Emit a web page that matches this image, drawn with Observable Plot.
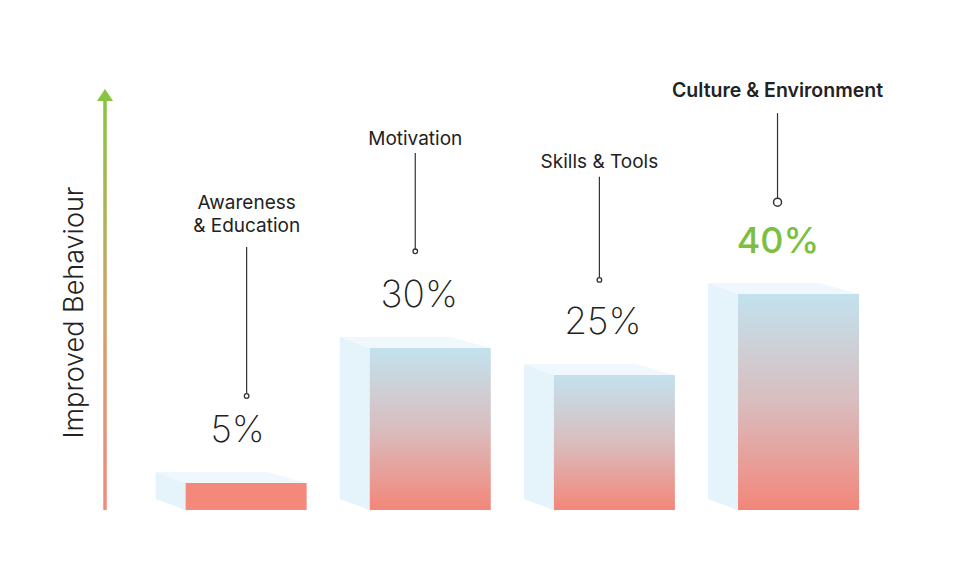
<!DOCTYPE html>
<html><head><meta charset="utf-8">
<script src="https://cdn.jsdelivr.net/npm/d3@7"></script>
<script src="https://cdn.jsdelivr.net/npm/@observablehq/plot@0.6"></script>
<style>
html,body{margin:0;padding:0;background:#fff;}
#chart svg{display:block;}
</style></head><body><div id="chart"></div>
<script>
// ---- data ----
const categories = ["Awareness\n& Education", "Motivation", "Skills & Tools", "Culture & Environment"];
const values = [5, 30, 25, 40];
const valueLabels = ["5%", "30%", "25%", "40%"];
const axisLabel = "Improved Behaviour";

// ---- layout constants ----
const W = 955, H = 574, mL = 62, mR = 46, mT = 24, mB = 64;
const xDomain = [-1, 3.6], yDomain = [0, 90];
const pxX = (W - mL - mR) / (xDomain[1] - xDomain[0]);
const pxY = (H - mT - mB) / (yDomain[1] - yDomain[0]);
const ux = px => px / pxX, uy = px => px / pxY;
const half = ux(60.5), depthX = ux(30), depthY = uy(11), backRight = ux(40);
const leaderShift = [0, -15.5, -15.5, -21.5].map(ux);
const valueShift = [-9, -11.5, -12, -21].map(ux);
const labelBase = [51.5, 67.6, 63.5, 76.5];
const leaderTop = [48.7, 66.1, 61.7, 73.5];
const leaderBottom = [21.2, 48.0, 42.7, 57.1];
const axisX = xDomain[0] + ux(105 - mL);
const axisLabelX = xDomain[0] + ux(74 - mL);
const arrowBase = uy(510 - 101), arrowTip = uy(510 - 89);
const hi = 3;

const bars = categories.map((c, i) => ({i, c, v: values[i], label: valueLabels[i]}));
const side = bars.flatMap(b => [
  {i: b.i, x: b.i - half - depthX, y1: depthY, y2: b.v + depthY},
  {i: b.i, x: b.i - half, y1: 0, y2: b.v}
]);
const topFace = bars.flatMap(b => [
  {i: b.i, y: b.v, x1: b.i - half, x2: b.i + half},
  {i: b.i, y: b.v + depthY, x1: b.i - half - depthX, x2: b.i + half - backRight}
]);
const arrowHead = [
  {y: arrowBase, x1: axisX - ux(8), x2: axisX + ux(8)},
  {y: arrowTip, x1: axisX, x2: axisX}
];

const defs = () => {
  const d = d3.create("svg:defs");
  const g = d.append("linearGradient").attr("id", "barGrad").attr("x1", 0).attr("y1", 0).attr("x2", 0).attr("y2", 1);
  g.append("stop").attr("offset", "0%").attr("stop-color", "#c2e2ee");
  g.append("stop").attr("offset", "50%").attr("stop-color", "#d9bdbe");
  g.append("stop").attr("offset", "100%").attr("stop-color", "#f3867a");
  const a = d.append("linearGradient").attr("id", "axisGrad").attr("x1", 0).attr("y1", 0).attr("x2", 0).attr("y2", 1);
  a.append("stop").attr("offset", "0%").attr("stop-color", "#88c440");
  a.append("stop").attr("offset", "50%").attr("stop-color", "#cfa464");
  a.append("stop").attr("offset", "100%").attr("stop-color", "#f5897f");
  return d.node();
};

const xOf = d => d.i + leaderShift[d.i];
const chart = Plot.plot({
  width: W, height: H,
  marginLeft: mL, marginRight: mR, marginTop: mT, marginBottom: mB,
  x: {domain: xDomain, axis: null},
  y: {domain: yDomain, axis: null},
  style: {fontFamily: "Inter, 'Noto Sans', sans-serif", background: "#fff", color: "#222"},
  marks: [
    defs,
    // axis arrow
    Plot.rect([0], {x1: axisX - ux(1.75), x2: axisX + ux(1.75), y1: 0, y2: arrowBase + uy(1), fill: "url(#axisGrad)"}),
    Plot.area(arrowHead, {y1: "y", x1: "x1", x2: "x2", fill: "#88c440"}),
    Plot.text([axisLabel], {x: axisLabelX, y: uy(510 - 312), text: d => d, rotate: -90, fontSize: 27, fontWeight: 300, fill: "#222"}),
    // 3D bars
    Plot.area(topFace, {y1: "y", x1: "x1", x2: "x2", z: "i", fill: "#f1f8fd"}),
    Plot.area(side, {x1: "x", y1: "y1", y2: "y2", z: "i", fill: "#e5f3fb"}),
    Plot.rect(bars, {filter: d => d.v >= 10, x1: d => d.i - half, x2: d => d.i + half, y1: 0, y2: "v", fill: "url(#barGrad)"}),
    Plot.rect(bars, {filter: d => d.v < 10, x1: d => d.i - half, x2: d => d.i + half, y1: 0, y2: "v", fill: "#f4887b"}),
    // leaders
    Plot.ruleX(bars, {x: xOf, y1: d => leaderBottom[d.i], y2: d => leaderTop[d.i], stroke: "#333", strokeWidth: 1.2}),
    Plot.dot(bars, {filter: d => d.i !== hi, x: xOf, y: d => leaderBottom[d.i], r: 2.3, fill: "#fff", stroke: "#333", strokeWidth: 1.3}),
    Plot.dot(bars, {filter: d => d.i === hi, x: xOf, y: d => leaderBottom[d.i], r: 4, fill: "#fff", stroke: "#333", strokeWidth: 1.5}),
    // category labels
    Plot.text(bars, {filter: d => d.i !== hi, x: xOf, y: d => labelBase[d.i], text: "c", lineAnchor: "bottom", lineHeight: 1.25, fontSize: 19, fontWeight: 400, fill: "#222"}),
    Plot.text(bars, {filter: d => d.i === hi, x: xOf, y: d => labelBase[d.i], text: "c", lineAnchor: "bottom", fontSize: 19.5, fontWeight: 600, fill: "#222"}),
    // value labels
    Plot.text(bars, {filter: d => d.i !== hi, x: d => d.i + valueShift[d.i], y: d => d.v + 7.7, text: "label", lineAnchor: "bottom", fontSize: 37, fontWeight: 200, fill: "#222"}),
    Plot.text(bars, {filter: d => d.i === hi, x: d => d.i + valueShift[d.i], y: d => d.v + 7.7, text: "label", lineAnchor: "bottom", fontSize: 36, fontWeight: 500, fill: "#7dbf42"})
  ]
});
document.getElementById("chart").append(chart);
</script>
</body></html>
